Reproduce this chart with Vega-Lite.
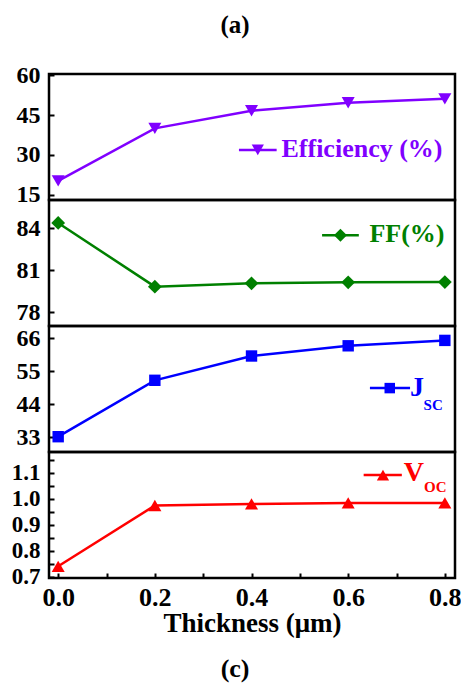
{
  "$schema": "https://vega.github.io/schema/vega-lite/v6.json",
  "title": {"text": "(a)", "font": "Liberation Serif", "fontSize": 25, "fontWeight": "bold", "color": "black", "anchor": "middle", "frame": "bounds", "offset": 24},
  "padding": {"left": 7, "top": 12, "right": 8, "bottom": 5},
  "spacing": 0,
  "bounds": "flush",
  "background": "white",
  "datasets": {
    "cell": [
      {"thickness": 0.0, "efficiency": 20.3, "ff": 84.36, "jsc": 33.2, "voc": 0.740},
      {"thickness": 0.2, "efficiency": 40.0, "ff": 79.81, "jsc": 52.0, "voc": 0.974},
      {"thickness": 0.4, "efficiency": 46.6, "ff": 80.05, "jsc": 60.1, "voc": 0.980},
      {"thickness": 0.6, "efficiency": 49.6, "ff": 80.12, "jsc": 63.5, "voc": 0.984},
      {"thickness": 0.8, "efficiency": 51.1, "ff": 80.14, "jsc": 65.3, "voc": 0.984}
    ],
    "key": [
      {"series": "efficiency", "label": "Efficiency (%)", "sub": ""},
      {"series": "ff", "label": "FF(%)", "sub": ""},
      {"series": "jsc", "label": "J", "sub": "SC"},
      {"series": "voc", "label": "V", "sub": "OC"}
    ]
  },
  "config": {
    "view": {"stroke": "black", "strokeWidth": 2.5},
    "axis": {
      "labelFont": "Liberation Serif", "labelFontWeight": "bold", "labelColor": "black", "labelFontSize": 24,
      "titleFont": "Liberation Serif", "titleFontWeight": "bold", "titleColor": "black", "titleFontSize": 27,
      "tickColor": "black", "tickWidth": 2, "tickSize": -5, "labelPadding": 14,
      "domain": false, "grid": false, "labelOverlap": false, "labelFlush": false
    },
    "axisY": {"minExtent": 40, "maxExtent": 40},
    "line": {"strokeWidth": 2.5},
    "rule": {"strokeWidth": 2.5},
    "point": {"filled": true, "opacity": 1},
    "text": {"font": "Liberation Serif", "fontWeight": "bold", "align": "left", "baseline": "middle"}
  },
  "vconcat": [
    {
      "width": 406, "height": 126,
      "layer": [
        {"data": {"name": "cell"},
         "mark": {"type": "line", "color": "#8000ff", "point": {"shape": "triangle-down", "filled": true, "opacity": 1, "color": "#8000ff", "size": 170}},
         "encoding": {
           "x": {"field": "thickness", "type": "quantitative", "scale": {"domain": [-0.019, 0.821], "nice": false, "zero": false}, "axis": null},
           "y": {"field": "efficiency", "type": "quantitative", "scale": {"domain": [13.1, 60.4], "nice": false, "zero": false},
                 "axis": {"title": null, "values": [15, 22.5, 30, 37.5, 45, 52.5, 60], "labelExpr": "datum.value % 15 == 0 ? datum.value : ''"}}
         }},
        {"data": {"name": "key"}, "transform": [{"filter": "datum.series == 'efficiency'"}],
         "mark": {"type": "rule", "color": "#8000ff"},
         "encoding": {"x": {"datum": 0.374}, "x2": {"datum": 0.452}, "y": {"datum": 31.9}}},
        {"data": {"name": "key"}, "transform": [{"filter": "datum.series == 'efficiency'"}],
         "mark": {"type": "point", "shape": "triangle-down", "color": "#8000ff", "size": 150},
         "encoding": {"x": {"datum": 0.413}, "y": {"datum": 31.9}}},
        {"data": {"name": "key"}, "transform": [{"filter": "datum.series == 'efficiency'"}],
         "mark": {"type": "text", "fontSize": 26, "color": "#8000ff"},
         "encoding": {"x": {"datum": 0.462}, "y": {"datum": 32.3}, "text": {"field": "label"}}}
      ]
    },
    {
      "width": 406, "height": 126,
      "layer": [
        {"data": {"name": "cell"},
         "mark": {"type": "line", "color": "#008000", "point": {"shape": "diamond", "filled": true, "opacity": 1, "color": "#008000", "size": 190}},
         "encoding": {
           "x": {"field": "thickness", "type": "quantitative", "scale": {"domain": [-0.019, 0.821], "nice": false, "zero": false}, "axis": null},
           "y": {"field": "ff", "type": "quantitative", "scale": {"domain": [77, 86], "nice": false, "zero": false},
                 "axis": {"title": null, "values": [78, 79.5, 81, 82.5, 84, 85.5], "labelExpr": "datum.value % 3 == 0 ? datum.value : ''"}}
         }},
        {"data": {"name": "key"}, "transform": [{"filter": "datum.series == 'ff'"}],
         "mark": {"type": "rule", "color": "#008000"},
         "encoding": {"x": {"datum": 0.546}, "x2": {"datum": 0.622}, "y": {"datum": 83.48}}},
        {"data": {"name": "key"}, "transform": [{"filter": "datum.series == 'ff'"}],
         "mark": {"type": "point", "shape": "diamond", "color": "#008000", "size": 170},
         "encoding": {"x": {"datum": 0.584}, "y": {"datum": 83.48}}},
        {"data": {"name": "key"}, "transform": [{"filter": "datum.series == 'ff'"}],
         "mark": {"type": "text", "fontSize": 26, "color": "#008000"},
         "encoding": {"x": {"datum": 0.644}, "y": {"datum": 83.6}, "text": {"field": "label"}}}
      ]
    },
    {
      "width": 406, "height": 126,
      "layer": [
        {"data": {"name": "cell"},
         "mark": {"type": "line", "color": "#0000ff", "point": {"shape": "square", "filled": true, "opacity": 1, "color": "#0000ff", "size": 130}},
         "encoding": {
           "x": {"field": "thickness", "type": "quantitative", "scale": {"domain": [-0.019, 0.821], "nice": false, "zero": false}, "axis": null},
           "y": {"field": "jsc", "type": "quantitative", "scale": {"domain": [28.1, 70.1], "nice": false, "zero": false},
                 "axis": {"title": null, "values": [33, 38.5, 44, 49.5, 55, 60.5, 66], "labelExpr": "datum.value % 11 == 0 ? datum.value : ''"}}
         }},
        {"data": {"name": "key"}, "transform": [{"filter": "datum.series == 'jsc'"}],
         "mark": {"type": "rule", "color": "#0000ff"},
         "encoding": {"x": {"datum": 0.645}, "x2": {"datum": 0.728}, "y": {"datum": 49.4}}},
        {"data": {"name": "key"}, "transform": [{"filter": "datum.series == 'jsc'"}],
         "mark": {"type": "point", "shape": "square", "color": "#0000ff", "size": 110},
         "encoding": {"x": {"datum": 0.686}, "y": {"datum": 49.4}}},
        {"data": {"name": "key"}, "transform": [{"filter": "datum.series == 'jsc'"}],
         "mark": {"type": "text", "fontSize": 28, "color": "#0000ff"},
         "encoding": {"x": {"datum": 0.728}, "y": {"datum": 49.6}, "text": {"field": "label"}}},
        {"data": {"name": "key"}, "transform": [{"filter": "datum.series == 'jsc'"}],
         "mark": {"type": "text", "fontSize": 15, "color": "#0000ff"},
         "encoding": {"x": {"datum": 0.756}, "y": {"datum": 43.8}, "text": {"field": "sub"}}}
      ]
    },
    {
      "width": 406, "height": 126,
      "title": {"text": "(c)", "orient": "bottom", "font": "Liberation Serif", "fontSize": 26, "fontWeight": "bold", "color": "black", "anchor": "middle", "frame": "bounds", "offset": 20},
      "layer": [
        {"data": {"name": "cell"},
         "mark": {"type": "line", "color": "#ff0000", "point": {"shape": "triangle-up", "filled": true, "opacity": 1, "color": "#ff0000", "size": 170}},
         "encoding": {
           "x": {"field": "thickness", "type": "quantitative", "scale": {"domain": [-0.019, 0.821], "nice": false, "zero": false},
                 "axis": {"title": "Thickness (μm)", "titlePadding": 0, "labelFontSize": 26, "labelPadding": 11, "values": [0, 0.1, 0.2, 0.3, 0.4, 0.5, 0.6, 0.7, 0.8],
                          "labelExpr": "round(datum.value * 10) % 2 == 0 ? format(datum.value, '.1f') : ''"}},
           "y": {"field": "voc", "type": "quantitative", "scale": {"domain": [0.695, 1.18], "nice": false, "zero": false},
                 "axis": {"title": null, "labelFontSize": 23, "labelOverlap": false, "values": [0.7, 0.75, 0.8, 0.85, 0.9, 0.95, 1.0, 1.05, 1.1, 1.15], "labelExpr": "round(datum.value * 100) % 10 == 0 ? format(datum.value, '.1f') : ''"}}
         }},
        {"data": {"name": "key"}, "transform": [{"filter": "datum.series == 'voc'"}],
         "mark": {"type": "rule", "color": "#ff0000"},
         "encoding": {"x": {"datum": 0.632}, "x2": {"datum": 0.711},
                      "y": {"datum": 1.091, "axis": {"title": null, "labelFontSize": 23, "labelOverlap": false, "values": [0.7, 0.75, 0.8, 0.85, 0.9, 0.95, 1.0, 1.05, 1.1, 1.15], "labelExpr": "round(datum.value * 100) % 10 == 0 ? format(datum.value, '.1f') : ''"}}}},
        {"data": {"name": "key"}, "transform": [{"filter": "datum.series == 'voc'"}],
         "mark": {"type": "point", "shape": "triangle-up", "color": "#ff0000", "size": 150},
         "encoding": {"x": {"datum": 0.672},
                      "y": {"datum": 1.091, "axis": {"title": null, "labelFontSize": 23, "labelOverlap": false, "values": [0.7, 0.75, 0.8, 0.85, 0.9, 0.95, 1.0, 1.05, 1.1, 1.15], "labelExpr": "round(datum.value * 100) % 10 == 0 ? format(datum.value, '.1f') : ''"}}}},
        {"data": {"name": "key"}, "transform": [{"filter": "datum.series == 'voc'"}],
         "mark": {"type": "text", "fontSize": 28, "color": "#ff0000"},
         "encoding": {"x": {"datum": 0.715},
                      "y": {"datum": 1.101, "axis": {"title": null, "labelFontSize": 23, "labelOverlap": false, "values": [0.7, 0.75, 0.8, 0.85, 0.9, 0.95, 1.0, 1.05, 1.1, 1.15], "labelExpr": "round(datum.value * 100) % 10 == 0 ? format(datum.value, '.1f') : ''"}},
                      "text": {"field": "label"}}},
        {"data": {"name": "key"}, "transform": [{"filter": "datum.series == 'voc'"}],
         "mark": {"type": "text", "fontSize": 15, "color": "#ff0000"},
         "encoding": {"x": {"datum": 0.757},
                      "y": {"datum": 1.045, "axis": {"title": null, "labelFontSize": 23, "labelOverlap": false, "values": [0.7, 0.75, 0.8, 0.85, 0.9, 0.95, 1.0, 1.05, 1.1, 1.15], "labelExpr": "round(datum.value * 100) % 10 == 0 ? format(datum.value, '.1f') : ''"}},
                      "text": {"field": "sub"}}}
      ]
    }
  ]
}
